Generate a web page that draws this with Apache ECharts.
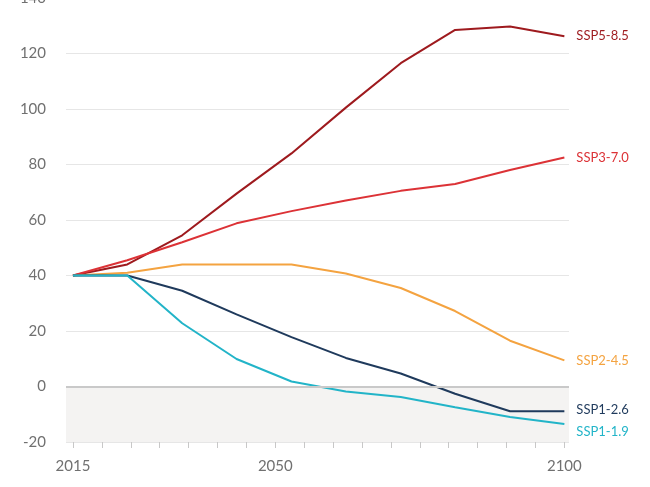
<!DOCTYPE html>
<html>
<head>
<meta charset="utf-8">
<script src="https://cdn.jsdelivr.net/npm/echarts@6/dist/echarts.min.js"></script>
<style>html,body{margin:0;padding:0;background:#fff;overflow:hidden}#c{position:absolute;left:0;top:-10px;width:650px;height:497px}</style>
</head>
<body>
<div id="c"></div>
<script>
// Years at which each series has a point
var years = [2015, 2024.4, 2033.9, 2043.3, 2052.8, 2062.2, 2071.7, 2081.1, 2090.6, 2100];
var seriesNames = ['SSP5-8.5', 'SSP3-7.0', 'SSP2-4.5', 'SSP1-2.6', 'SSP1-1.9'];
var ssp585 = [40, 44, 54.5, 69.5, 84, 100.5, 116.5, 128.5, 129.7, 126.2];
var ssp370 = [40, 45.5, 52, 58.8, 63.2, 67, 70.5, 73, 78, 82.5];
var ssp245 = [40, 41, 44, 44, 44, 40.7, 35.5, 27.2, 16.5, 9.4];
var ssp126 = [40, 40, 34.5, 26, 17.8, 10.3, 4.7, -2.6, -8.9, -8.9];
var ssp119 = [40, 40, 22.8, 9.9, 1.8, -1.8, -3.8, -7.5, -11, -13.5];
var xTickYears = [2015,2020,2025,2030,2035,2040,2045,2050,2055,2060,2065,2070,2075,2080,2085,2090,2095,2100];
var xLabelYears = [2015, 2050, 2100];
var yTicks = [-20, 0, 20, 40, 60, 80, 100, 120, 140];
var shadeRange = [-20, 0];

var colors = ['#9e1a1e', '#dc3236', '#f4a340', '#1f3a5c', '#22b4c8'];
var labelOffsets = [[0, 0], [0, 0], [0, 0], [0, -1], [0, 8]];
var values = [ssp585, ssp370, ssp245, ssp126, ssp119];

function pairs(arr) { return arr.map(function (v, i) { return [years[i], v]; }); }

var series = seriesNames.map(function (name, i) {
  var s = {
    name: name,
    type: 'line',
    data: pairs(values[i]),
    symbol: 'none',
    lineStyle: { color: colors[i], width: 2 },
    itemStyle: { color: colors[i] },
    z: 3,
    endLabel: {
      show: true,
      formatter: name,
      color: colors[i],
      fontSize: 13,
      fontFamily: 'Lato',
      distance: 12,
      offset: labelOffsets[i]
    },
    emphasis: { disabled: true }
  };
  if (i === 0) {
    s.markArea = {
      silent: true,
      itemStyle: { color: '#f4f3f2' },
      data: [[{ yAxis: shadeRange[0] }, { yAxis: shadeRange[1] }]]
    };
    s.markLine = {
      silent: true,
      symbol: 'none',
      label: { show: false },
      lineStyle: { color: '#c9c9c9', width: 2, type: 'solid' },
      data: [{ yAxis: 0 }]
    };
  }
  return s;
});

var chart = echarts.init(document.getElementById('c'), null, { renderer: 'canvas' });
chart.setOption({
  animation: false,
  backgroundColor: '#ffffff',
  textStyle: { fontFamily: 'Lato' },
  grid: { left: 66, right: 81, top: 8, bottom: 45, containLabel: false },
  xAxis: {
    type: 'value',
    min: 2013.8,
    max: 2100.8,
    axisLine: { show: true, onZero: false, lineStyle: { color: 'rgba(0,0,0,0)' } },
    splitLine: { show: false },
    axisTick: { show: true, customValues: xTickYears, length: 6, lineStyle: { color: '#c8c8c8' } },
    axisLabel: {
      customValues: xLabelYears, color: '#707070', fontSize: 15, fontFamily: 'Lato', margin: 17,
      formatter: function (v) { return String(v); }
    }
  },
  yAxis: {
    type: 'value',
    min: yTicks[0],
    max: yTicks[yTicks.length - 1],
    interval: 20,
    axisLine: { show: false },
    axisTick: { show: false },
    splitLine: { lineStyle: { color: '#e6e6e6', width: 1 } },
    axisLabel: { color: '#707070', fontSize: 15, fontFamily: 'Lato', margin: 20 }
  },
  series: series
});
</script>
</body>
</html>
